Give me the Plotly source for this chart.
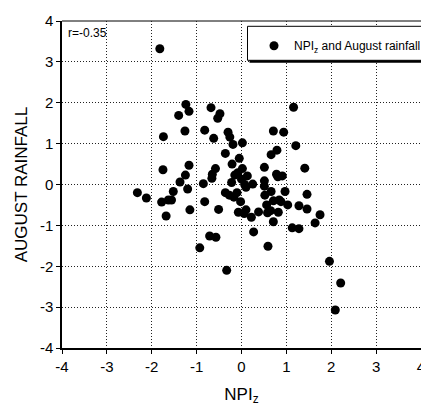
import plotly.graph_objects as go

# NPI (standardised) vs August rainfall anomaly
npi_z = [-1.82, -1.24, -1.17, -1.40, -0.68, -0.48, -0.53, -1.26, -0.82, -1.74,
         -0.62, -0.30, -0.26, -0.19, 0.02, -0.36, -0.05, -0.21, -1.17, -1.75,
         -0.58, -1.25, -0.65, -0.66, -1.37, -0.85, -1.20, -2.32, -2.12, -1.52,
         -1.78, -1.63, -1.56, -1.68, -0.82, -1.15, -0.51, -0.71, -0.57, -0.93,
         -0.33, -0.22, -0.15, -0.08, 0.02, 0.13, 0.00, 0.07, 0.25, 0.10,
         -0.36, -0.27, -0.10, -0.17, -0.02, -0.07, 0.10, 0.06, 0.22, 0.38,
         0.27, 0.51, 0.51, 0.51, 0.52, 0.66, 0.56, 0.58, 0.66, 0.79,
         0.71, 0.94, 1.16, 1.21, 0.78, 0.81, 0.91, 0.97, 0.71, 0.84,
         0.88, 1.03, 0.65, 0.82, 0.71, 0.59, 1.13, 1.28, 1.28, 1.41,
         1.46, 1.46, 1.64, 1.75, 1.96, 2.21, 2.09]
aug_rain = [3.32, 1.96, 1.79, 1.69, 1.88, 1.73, 1.62, 1.31, 1.33, 1.17,
            1.13, 1.28, 1.16, 0.98, 1.02, 0.76, 0.64, 0.50, 0.47, 0.36,
            0.39, 0.23, 0.25, 0.15, 0.06, 0.02, -0.11, -0.20, -0.33, -0.17,
            -0.43, -0.38, -0.38, -0.77, -0.42, -0.62, -0.61, -1.26, -1.29, -1.55,
            -2.10, 0.05, 0.23, 0.29, 0.39, 0.21, 0.13, 0.00, 0.01, -0.07,
            -0.20, -0.26, -0.20, -0.31, -0.42, -0.68, -0.62, -0.71, -0.80, -0.67,
            -1.16, 0.42, 0.09, -0.04, -0.26, -0.17, -0.50, -0.69, 0.73, 0.84,
            1.31, 1.28, 1.89, 0.95, 0.25, 0.19, 0.21, -0.17, -0.40, -0.38,
            -0.42, -0.50, -0.64, -0.68, -0.91, -1.51, -1.06, -1.08, -0.52, 0.40,
            -0.24, -0.60, -0.94, -0.74, -1.88, -2.41, -3.07]

tick_vals = [-4, -3, -2, -1, 0, 1, 2, 3, 4]
tick_text = ["-4", "-3", "-2", "-1", "0", "1", "2", "3", "4"]
corr_label = "r=-0.35"
series_name = "NPI<sub>z</sub> and August rainfall"

FONT = "Liberation Sans Narrow, Liberation Sans, Arial, sans-serif"

fig = go.Figure()
fig.add_trace(go.Scatter(
    x=npi_z, y=aug_rain, mode="markers", name=series_name,
    marker=dict(color="black", size=9, line=dict(width=0)),
    showlegend=True,
))

axis_common = dict(
    range=[-4, 4], tickmode="array", tickvals=tick_vals, ticktext=tick_text,
    showgrid=True, gridcolor="#222222", gridwidth=1, griddash="1px,2px",
    zeroline=False, ticks="outside", ticklen=4, tickwidth=1, tickcolor="black",
    tickfont=dict(family=FONT, size=15, color="black"),
    fixedrange=True, automargin=False, ticklabeloverflow="allow",
)

fig.update_xaxes(
    **axis_common, showline=True, linecolor="black", linewidth=2, mirror=False,
    title=dict(text="NPI<sub>z</sub>", font=dict(family=FONT, size=17, color="black"),
               standoff=14),
)
fig.update_yaxes(
    **axis_common, showline=True, linecolor="black", linewidth=1.5, mirror=False,
    title=dict(text="AUGUST RAINFALL", font=dict(family=FONT, size=17, color="black"),
               standoff=8),
)

# legend frame with drop shadow
px_w, px_h = 359.0, 327.0
def fx(p):
    return (p - 62) / px_w
def fy(p):
    return (347.7 - p) / px_h

fig.add_shape(type="rect", xref="paper", yref="paper",
              x0=fx(249.5), x1=fx(440), y0=fy(62.5), y1=fy(28.5),
              fillcolor="black", line=dict(width=0), layer="above")
fig.add_shape(type="rect", xref="paper", yref="paper",
              x0=fx(247.5), x1=fx(440), y0=fy(60), y1=fy(26),
              fillcolor="white", line=dict(color="black", width=1), layer="above")

# top frame line
fig.add_shape(type="line", xref="paper", yref="paper", x0=0, x1=1, y0=1, y1=1,
              line=dict(color="black", width=1), layer="below")

fig.add_annotation(text=corr_label, xref="paper", yref="paper",
                   x=fx(66), y=fy(33), xanchor="left", yanchor="middle",
                   showarrow=False, font=dict(family=FONT, size=12, color="black"))

fig.update_layout(
    width=421, height=412,
    margin=dict(l=62, r=0, t=21, b=64, pad=0, autoexpand=False),
    paper_bgcolor="white", plot_bgcolor="white",
    showlegend=True,
    legend=dict(x=fx(254), y=fy(31), xanchor="left", yanchor="top",
                bgcolor="rgba(0,0,0,0)", borderwidth=0,
                font=dict(family=FONT, size=12, color="black"),
                itemsizing="trace"),
)

fig.write_html("out.html")
